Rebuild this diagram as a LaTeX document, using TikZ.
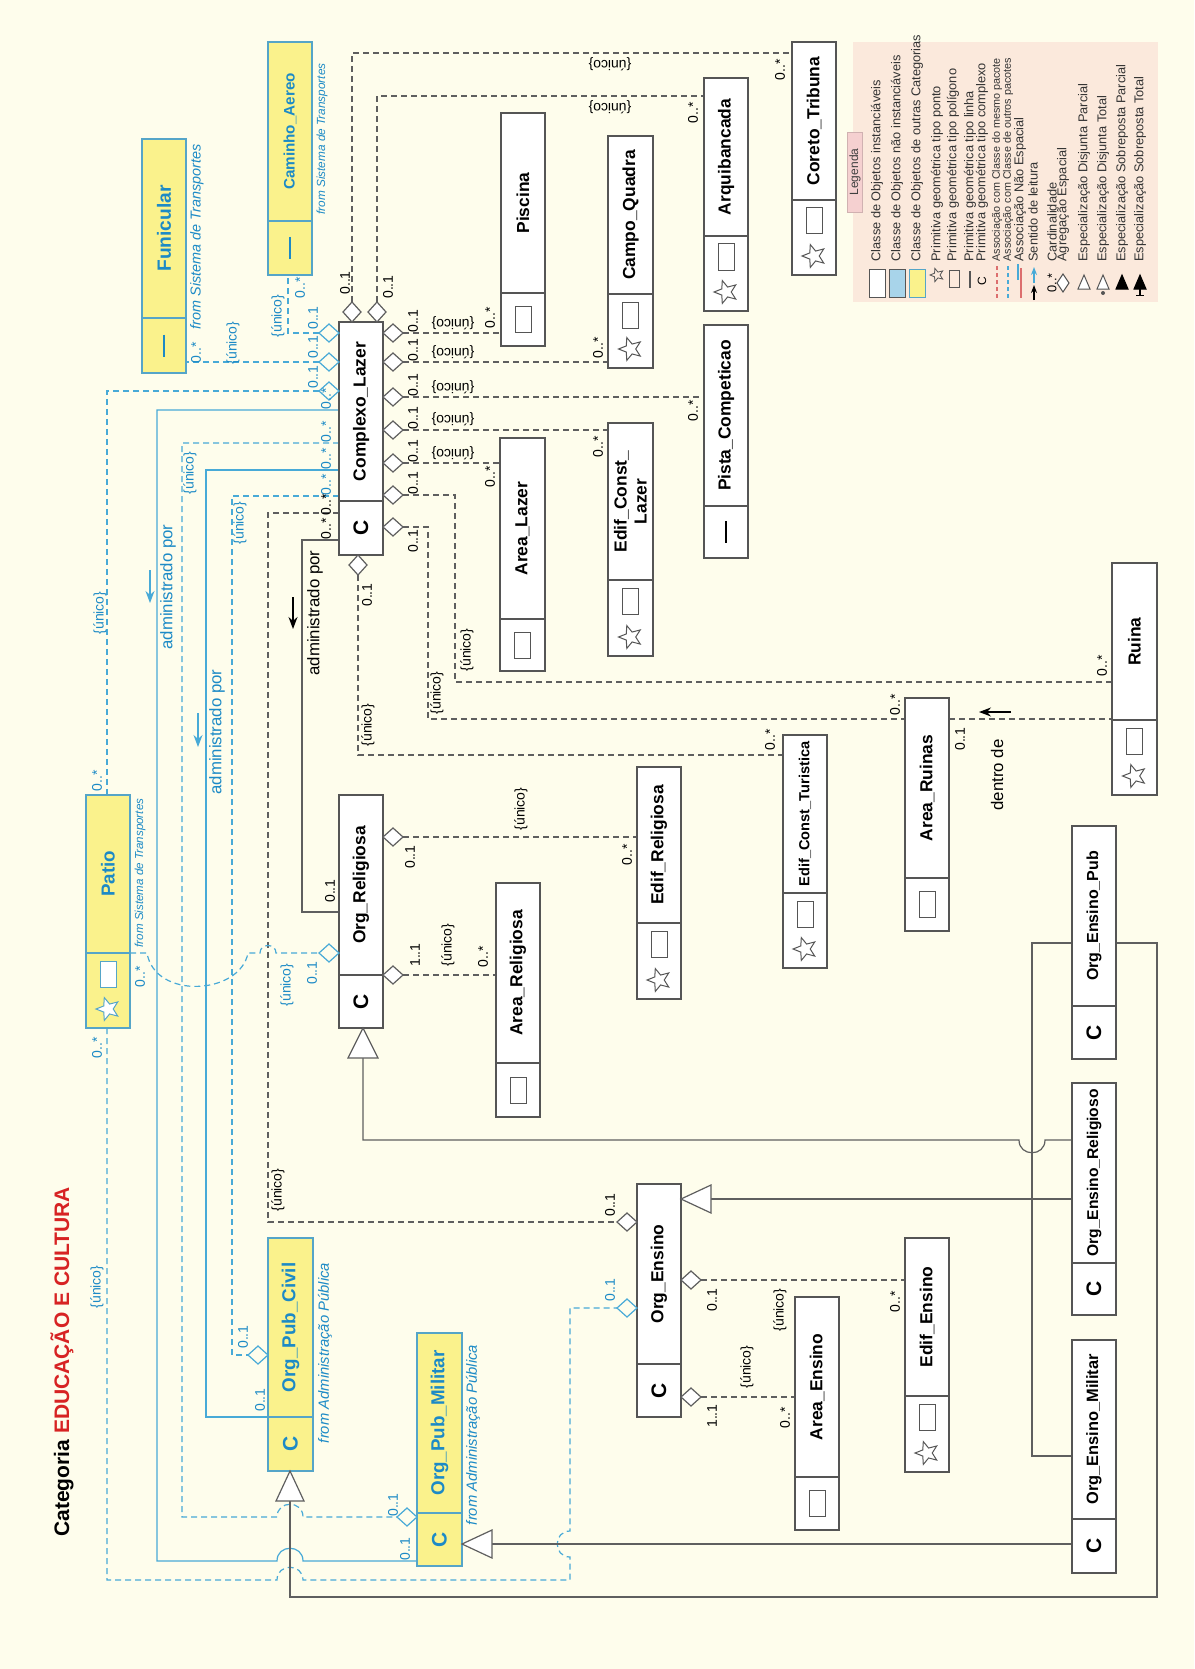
\documentclass[tikz,border=0pt]{standalone}
\usepackage{fontspec}
\setmainfont{Liberation Sans}
\usetikzlibrary{shapes.geometric,arrows.meta}

\definecolor{bg}{RGB}{254,253,236}
\definecolor{boxline}{RGB}{85,85,85}
\definecolor{conn}{RGB}{95,95,95}
\definecolor{lblue}{RGB}{72,170,215}
\definecolor{tblue}{RGB}{28,138,198}
\definecolor{yfill}{RGB}{250,242,140}
\definecolor{yline}{RGB}{85,165,200}
\definecolor{legbg}{RGB}{251,233,220}
\definecolor{legtab}{RGB}{245,208,208}
\definecolor{legblue}{RGB}{168,212,234}
\definecolor{lred}{RGB}{220,110,110}
\definecolor{tred}{RGB}{215,35,35}

\tikzset{
  wbox/.style={draw=boxline, fill=white, line width=0.6pt, inner sep=0pt, outer sep=0pt},
  ybox/.style={draw=yline, fill=yfill, line width=0.6pt, inner sep=0pt, outer sep=0pt},
  wboxsep/.style={draw=boxline, line width=0.6pt},
  yboxsep/.style={draw=yline, line width=0.6pt},
  wboxtxt/.style={text=black, font=\bfseries\fontsize{8.7}{10}\selectfont},
  yboxtxt/.style={text=tblue, font=\bfseries\fontsize{9.4}{10}\selectfont},
  gline/.style={draw=conn, line width=0.6pt},
  gdash/.style={draw=conn, line width=0.6pt, dash pattern=on 3pt off 2pt},
  bline/.style={draw=lblue, line width=0.6pt},
  bdash/.style={draw=lblue, line width=0.6pt, dash pattern=on 3pt off 2pt},
  lbl/.style={rotate=90, inner sep=0pt, font=\fontsize{7}{7}\selectfont},
  lblr/.style={rotate=180, inner sep=0pt, font=\fontsize{7}{7}\selectfont},
  bl/.style={text=tblue},
  gd/.style={draw=conn, fill=white, line width=0.6pt},
  bd/.style={draw=lblue, fill=bg, line width=0.6pt},
  gen/.style={draw=conn, fill=white, line width=0.6pt},
  frm/.style={rotate=90, inner sep=0pt, text=tblue, font=\itshape\fontsize{#1}{#1}\selectfont},
  adm/.style={rotate=90, inner sep=0pt, font=\fontsize{8.4}{9}\selectfont},
  legtxt/.style={rotate=90, anchor=west, inner sep=0pt, text=black!80, font=\fontsize{6.4}{7}\selectfont},
  rdarrow/.style={line width=0.7pt, -{Stealth[length=6pt,width=4.5pt]}},
}

% icon compartments: #1 colour, #2 centre x, #3 divider y, #4 bottom y
\newcommand\icC[4]{\node[rotate=90, inner sep=0pt, text=#1, font=\bfseries\fontsize{10.5}{11}\selectfont] at ({#2},{(#3+#4)/2}) {C};}
\newcommand\icR[4]{\draw[draw=#1, fill=white, line width=0.5pt] ({#2-8},{(#3+#4)/2-13}) rectangle ({#2+8},{(#3+#4)/2+13});}
\newcommand\icSR[4]{\draw[draw=#1, fill=white, line width=0.5pt] ({#2-8},{#3+8}) rectangle ({#2+8},{#3+34});
  \node[star, star points=5, star point ratio=2.3, draw=#1, fill=white, line width=0.5pt, minimum size=12pt, inner sep=0pt, rotate=90] at ({#2},{#4-19}) {};}
\newcommand\icL[4]{\draw[draw=#1, line width=0.8pt] ({#2},{(#3+#4)/2-11}) -- ({#2},{(#3+#4)/2+11});}

% class box: #1 name, #2 style, #3 left x, #4 right x, #5 top y, #6 bottom y, #7 divider y, #8 title, #9 icon
\newcommand\cls[9]{%
  \node[#2, minimum width={(#4-#3)*0.5pt}, minimum height={(#6-#5)*0.5pt}] (#1) at ({(#3+#4)/2},{(#5+#6)/2}) {};
  \draw[#2sep] (#3,#7) -- (#4,#7);
  \node[#2txt, rotate=90, align=center, inner sep=0pt] at ({(#3+#4)/2},{(#5+#7)/2}) {#8};
  #9{(#3+#4)/2}{#7}{#6}%
}

% aggregation diamonds: #1 x, #2 y, #3 direction sign, #4 style
\newcommand\dmdh[4]{\draw[#4] (#1,#2) -- ({#1+#3*10},{#2-9}) -- ({#1+#3*20},#2) -- ({#1+#3*10},{#2+9}) -- cycle;}
\newcommand\dmdv[4]{\draw[#4] (#1,#2) -- ({#1-9},{#2+#3*10}) -- (#1,{#2+#3*20}) -- ({#1+9},{#2+#3*10}) -- cycle;}

\begin{document}
\begin{tikzpicture}[x=0.5pt, y=-0.5pt]
\useasboundingbox (0,0) rectangle (1194,1669);
\fill[bg] (0,0) rectangle (1194,1669);

% ---------- title ----------
\node[rotate=90, anchor=west, inner sep=0pt, font=\bfseries\fontsize{10.5}{12}\selectfont] (title) at (62,1537) {Categoria \textcolor{tred}{EDUCAÇÃO E CULTURA}};

% ---------- connectors (drawn first, boxes on top) ----------
% Complexo_Lazer, top side
\draw[gdash] (352,302) -- (352,53) -- (792,53);
\draw[gdash] (377,302) -- (377,96) -- (704,96);
% Complexo_Lazer, left side (other packages)
\draw[bdash] (319,333) -- (288,333) -- (288,275);
\draw[bdash] (319,362) -- (186,362);
\draw[bdash] (319,391) -- (107,391) -- (107,795);
\draw[bline] (339,410) -- (157,410) -- (157,1561) -- (277,1561) .. controls (277,1544) and (303,1544) .. (303,1561) -- (417,1561);
\draw[bdash] (339,443) -- (182,443) -- (182,1517) -- (277,1517) .. controls (277,1500) and (303,1500) .. (303,1517) -- (397,1517);
\draw[bline] (339,470) -- (206,470) -- (206,1417) -- (268,1417);
\draw[bdash] (339,496) -- (232,496) -- (232,1355) -- (248,1355);
\draw[gdash] (339,513) -- (268,513) -- (268,1222) -- (617,1222);
\draw[gline] (339,540) -- (302,540) -- (302,912) -- (339,912);
% Complexo_Lazer, right side
\draw[gdash] (403,333) -- (501,333);
\draw[gdash] (403,362) -- (608,362);
\draw[gdash] (403,397) -- (704,397);
\draw[gdash] (403,430) -- (608,430);
\draw[gdash] (403,463) -- (500,463);
\draw[gdash] (403,495) -- (455,495) -- (455,682) -- (1112,682);
\draw[gdash] (403,527) -- (428,527) -- (428,719) -- (905,719);
% Complexo_Lazer, bottom side
\draw[gdash] (358,575) -- (358,755) -- (783,755);
% Area_Ruinas - Ruina
\draw[gdash] (949,719) -- (1112,719);
% Patio
\draw[bdash] (130,953) -- (147,953) .. controls (155,1000) and (240,995) .. (248,953) -- (260,953) .. controls (260,943) and (276,943) .. (276,953) -- (319,953);
\draw[bdash] (107,1028) -- (107,1580) -- (277,1580) .. controls (277,1563) and (303,1563) .. (303,1580) -- (570,1580) -- (570,1557) .. controls (553,1557) and (553,1531) .. (570,1531) -- (570,1308) -- (617,1308);
% Org_Religiosa parts
\draw[gdash] (403,837) -- (637,837);
\draw[gdash] (403,975) -- (496,975);
% Org_Ensino parts
\draw[gdash] (701,1280) -- (905,1280);
\draw[gdash] (701,1397) -- (795,1397);
% specialisations
\draw[gline] (363,1058) -- (363,1140) -- (1019,1140) .. controls (1019,1157) and (1045,1157) .. (1045,1140) -- (1072,1140);
\draw[gline] (711,1199) -- (1072,1199);
\draw[gline] (1072,943) -- (1032,943) -- (1032,1456) -- (1072,1456);
\draw[gline] (290,1501) -- (290,1597) -- (1157,1597) -- (1157,943) -- (1116,943);
\draw[gline] (492,1544) -- (1072,1544);

% ---------- classes ----------
\cls{fun}{ybox}{142}{186}{139}{373}{318}{\fontsize{9.6}{10}\selectfont Funicular}{\icL{tblue}}
\cls{cam}{ybox}{268}{312}{42}{275}{221}{\fontsize{7.6}{8}\selectfont Caminho\_Aereo}{\icL{tblue}}
\cls{pat}{ybox}{86}{130}{795}{1028}{953}{Patio}{\icSR{yline}}
\cls{opc}{ybox}{268}{313}{1238}{1471}{1417}{Org\_Pub\_Civil}{\icC{tblue}}
\cls{opm}{ybox}{417}{462}{1333}{1566}{1513}{Org\_Pub\_Militar}{\icC{tblue}}

\cls{cl}{wbox}{339}{383}{322}{555}{501}{Complexo\_Lazer}{\icC{black}}
\cls{pis}{wbox}{501}{545}{113}{346}{293}{Piscina}{\icR{boxline}}
\cls{cq}{wbox}{608}{653}{136}{368}{294}{Campo\_Quadra}{\icSR{boxline}}
\cls{arq}{wbox}{704}{748}{78}{311}{236}{Arquibancada}{\icSR{boxline}}
\cls{cor}{wbox}{792}{836}{42}{275}{200}{Coreto\_Tribuna}{\icSR{boxline}}
\cls{pc}{wbox}{704}{748}{325}{558}{506}{Pista\_Competicao}{\icL{black}}
\cls{al}{wbox}{500}{545}{438}{671}{619}{Area\_Lazer}{\icR{boxline}}
\cls{ecl}{wbox}{608}{653}{423}{656}{580}{Edif\_Const\_\\Lazer}{\icSR{boxline}}
\cls{ect}{wbox}{783}{827}{735}{968}{893}{\fontsize{7.3}{8}\selectfont Edif\_Const\_Turistica}{\icSR{boxline}}
\cls{ar}{wbox}{905}{949}{698}{931}{878}{Area\_Ruinas}{\icR{boxline}}
\cls{rui}{wbox}{1112}{1157}{563}{795}{720}{Ruina}{\icSR{boxline}}
\cls{orl}{wbox}{339}{383}{795}{1028}{975}{Org\_Religiosa}{\icC{black}}
\cls{arl}{wbox}{496}{540}{883}{1117}{1063}{Area\_Religiosa}{\icR{boxline}}
\cls{erl}{wbox}{637}{681}{767}{999}{923}{Edif\_Religiosa}{\icSR{boxline}}
\cls{oe}{wbox}{637}{681}{1184}{1417}{1364}{Org\_Ensino}{\icC{black}}
\cls{ae}{wbox}{795}{839}{1297}{1530}{1477}{Area\_Ensino}{\icR{boxline}}
\cls{ee}{wbox}{905}{949}{1238}{1472}{1396}{Edif\_Ensino}{\icSR{boxline}}
\cls{oep}{wbox}{1072}{1116}{826}{1059}{1006}{\fontsize{8}{9}\selectfont Org\_Ensino\_Pub}{\icC{black}}
\cls{oer}{wbox}{1072}{1116}{1083}{1315}{1263}{\fontsize{7.8}{9}\selectfont Org\_Ensino\_Religioso}{\icC{black}}
\cls{oem}{wbox}{1072}{1116}{1340}{1573}{1519}{\fontsize{8.2}{9}\selectfont Org\_Ensino\_Militar}{\icC{black}}

% package notes
\node[frm=7.2] at (197,237) {from Sistema de Transportes};
\node[frm=5.9] at (322,139) {from Sistema de Transportes};
\node[frm=5.8] at (140,873) {from Sistema de Transportes};
\node[frm=7.4] at (325,1353) {from Administração Pública};
\node[frm=7.4] at (473,1435) {from Administração Pública};

% ---------- aggregation diamonds ----------
\dmdv{352}{322}{-1}{gd} \dmdv{377}{322}{-1}{gd}
\dmdh{339}{333}{-1}{bd} \dmdh{339}{362}{-1}{bd} \dmdh{339}{391}{-1}{bd}
\dmdh{383}{333}{1}{gd} \dmdh{383}{362}{1}{gd} \dmdh{383}{397}{1}{gd} \dmdh{383}{430}{1}{gd}
\dmdh{383}{463}{1}{gd} \dmdh{383}{495}{1}{gd} \dmdh{383}{527}{1}{gd}
\dmdv{358}{555}{1}{gd}
\dmdh{339}{953}{-1}{bd}
\dmdh{383}{837}{1}{gd} \dmdh{383}{975}{1}{gd}
\dmdh{637}{1222}{-1}{gd} \dmdh{637}{1308}{-1}{bd}
\dmdh{681}{1280}{1}{gd} \dmdh{681}{1397}{1}{gd}
\dmdh{268}{1355}{-1}{bd}
\dmdh{417}{1517}{-1}{bd}

% ---------- specialisation triangles ----------
\draw[gen] (363,1028) -- (348,1058) -- (378,1058) -- cycle;
\draw[gen] (290,1471) -- (276,1501) -- (304,1501) -- cycle;
\draw[gen] (681,1199) -- (711,1185) -- (711,1213) -- cycle;
\draw[gen] (462,1544) -- (492,1530) -- (492,1558) -- cycle;

% ---------- reading directions ----------
\node[adm, text=tblue] at (168,587) {administrado por};
\draw[rdarrow, lblue] (150,570) -- (150,603);
\node[adm, text=tblue] at (217,732) {administrado por};
\draw[rdarrow, lblue] (198,713) -- (198,747);
\node[adm] at (315,613) {administrado por};
\draw[rdarrow, black] (293,597) -- (293,629);
\node[adm] at (997,775) {dentro de};
\draw[rdarrow, black] (1011,712) -- (979,712);

% ---------- multiplicities and constraints ----------
% top of Complexo_Lazer
\node[lbl] at (345,283) {0..1};
\node[lbl] at (388,287) {0..1};
\node[lblr] at (610,64) {\{único\}};
\node[lbl] at (780,70) {0..*};
\node[lblr] at (610,107) {\{único\}};
\node[lbl] at (693,113) {0..*};
% left of Complexo_Lazer
\node[lbl, bl] at (313,318) {0..1};
\node[lbl, bl] at (278,316) {\{único\}};
\node[lbl, bl] at (300,288) {0..*};
\node[lbl, bl] at (313,347) {0..1};
\node[lbl, bl] at (233,343) {\{único\}};
\node[lbl, bl] at (196,353) {0..*};
\node[lbl, bl] at (313,377) {0..1};
\node[lbl, bl] at (100,613) {\{único\}};
\node[lbl, bl] at (97,781) {0..*};
\node[lbl, bl] at (326,399) {0..*};
\node[lbl, bl] at (326,432) {0..*};
\node[lbl, bl] at (326,459) {0..*};
\node[lbl, bl] at (326,485) {0..*};
\node[lbl] at (326,505) {0..*};
\node[lbl] at (326,529) {0..*};
\node[lbl, bl] at (190,473) {\{único\}};
\node[lbl, bl] at (240,523) {\{único\}};
\node[lbl] at (278,1190) {\{único\}};
% Org_Pub ends
\node[lbl, bl] at (405,1549) {0..1};
\node[lbl, bl] at (393,1505) {0..1};
\node[lbl, bl] at (260,1400) {0..1};
\node[lbl, bl] at (243,1337) {0..1};
% Patio
\node[lbl, bl] at (140,977) {0..*};
\node[lbl, bl] at (287,985) {\{único\}};
\node[lbl, bl] at (312,973) {0..1};
\node[lbl, bl] at (97,1048) {0..*};
\node[lbl, bl] at (97,1287) {\{único\}};
\node[lbl, bl] at (610,1290) {0..1};
\node[lbl] at (610,1205) {0..1};
\node[lbl] at (330,891) {0..1};
% right of Complexo_Lazer
\node[lbl] at (413,321) {0..1};
\node[lblr] at (453,323) {\{único\}};
\node[lbl] at (490,318) {0..*};
\node[lbl] at (413,350) {0..1};
\node[lblr] at (453,352) {\{único\}};
\node[lbl] at (598,348) {0..*};
\node[lbl] at (413,385) {0..1};
\node[lblr] at (453,387) {\{único\}};
\node[lbl] at (693,411) {0..*};
\node[lbl] at (413,418) {0..1};
\node[lblr] at (453,419) {\{único\}};
\node[lbl] at (598,447) {0..*};
\node[lbl] at (413,451) {0..1};
\node[lblr] at (453,453) {\{único\}};
\node[lbl] at (490,477) {0..*};
\node[lbl] at (413,483) {0..1};
\node[lbl] at (467,650) {\{único\}};
\node[lbl] at (1102,666) {0..*};
\node[lbl] at (413,541) {0..1};
\node[lbl] at (437,693) {\{único\}};
\node[lbl] at (895,705) {0..*};
\node[lbl] at (367,595) {0..1};
\node[lbl] at (368,725) {\{único\}};
\node[lbl] at (770,740) {0..*};
\node[lbl] at (960,739) {0..1};
% Org_Religiosa parts
\node[lbl] at (410,857) {0..1};
\node[lbl] at (521,809) {\{único\}};
\node[lbl] at (627,855) {0..*};
\node[lbl] at (415,955) {1..1};
\node[lbl] at (448,945) {\{único\}};
\node[lbl] at (483,957) {0..*};
% Org_Ensino parts
\node[lbl] at (712,1300) {0..1};
\node[lbl] at (780,1310) {\{único\}};
\node[lbl] at (895,1302) {0..*};
\node[lbl] at (712,1416) {1..1};
\node[lbl] at (747,1367) {\{único\}};
\node[lbl] at (785,1418) {0..*};

% ---------- legend ----------
\fill[legbg] (853,42) rectangle (1158,302);
\node[draw=legtab!85!black, fill=legtab, line width=0.3pt, minimum width=7.5pt, minimum height=40pt, inner sep=0pt] (legtab) at (855,172) {};
\node[rotate=90, inner sep=0pt, text=black!75, font=\fontsize{6}{6}\selectfont] at (legtab) {Legenda};
\draw[draw=boxline, fill=white, line width=0.5pt] (869,269) rectangle (885,297);
\draw[draw=boxline, fill=legblue, line width=0.5pt] (889,269) rectangle (905,297);
\draw[draw=yline, fill=yfill, line width=0.5pt] (909,269) rectangle (925,297);
\node[star, star points=5, star point ratio=2.3, draw=boxline, line width=0.4pt, minimum size=7pt, inner sep=0pt, rotate=90] at (937,275) {};
\draw[draw=boxline, line width=0.4pt] (949,270) rectangle (959,287);
\draw[draw=boxline, line width=0.6pt] (970,271) -- (970,288);
\node[rotate=90, inner sep=0pt, font=\fontsize{6}{6}\selectfont] at (982,281) {C};
\draw[draw=lred, line width=0.6pt, dash pattern=on 2pt off 1.5pt] (997,266) -- (997,298);
\draw[draw=lblue, line width=0.6pt, dash pattern=on 2pt off 1.5pt] (1008,266) -- (1008,298);
\draw[draw=lblue, line width=0.6pt] (1018,264) -- (1018,280);
\draw[draw=lred, line width=0.6pt] (1021,268) -- (1021,298);
\draw[black, line width=0.6pt, -{Stealth[length=4pt,width=3pt]}] (1034,300) -- (1034,285);
\draw[lblue, line width=0.6pt, -{Stealth[length=4pt,width=3pt]}] (1034,283) -- (1034,267);
\node[rotate=90, inner sep=0pt, font=\fontsize{6.4}{7}\selectfont] at (1052,283) {0..*};
\draw[draw=boxline, fill=white, line width=0.5pt] (1063,274) -- (1057,283) -- (1063,292) -- (1069,283) -- cycle;
\draw[draw=boxline, fill=white, line width=0.5pt] (1084,275) -- (1078,289) -- (1090,289) -- cycle;
\draw[draw=boxline, fill=white, line width=0.5pt] (1103,275) -- (1097,289) -- (1109,289) -- cycle;
\fill[boxline] (1103,293) circle (1pt);
\draw[draw=black, fill=black, line width=0.5pt] (1122,275) -- (1116,289) -- (1128,289) -- cycle;
\draw[draw=black, fill=black, line width=0.5pt] (1140,275) -- (1134,289) -- (1146,289) -- cycle;
\draw[black, line width=0.8pt] (1140,289) -- (1140,295);
\draw[black, line width=0.5pt] (1136,295) -- (1144,295);
\node[legtxt] at (877,262) {Classe de Objetos instanciáveis};
\node[legtxt] at (897,262) {Classe de Objetos não instanciáveis};
\node[legtxt] at (917,262) {Classe de Objetos de outras Categorias};
\node[legtxt] at (937,262) {Primitiva geométrica tipo ponto};
\node[legtxt] at (953,262) {Primitiva geométrica tipo polígono};
\node[legtxt] at (970,262) {Primitiva geométrica tipo linha};
\node[legtxt] at (982,262) {Primitiva geométrica tipo complexo};
\node[legtxt, font=\fontsize{5.4}{6}\selectfont] at (997,262) {Associação com Classe do mesmo pacote};
\node[legtxt, font=\fontsize{5.4}{6}\selectfont] at (1008,262) {Associação com Classe de outros pacotes};
\node[legtxt] at (1020,262) {Associação Não Espacial};
\node[legtxt] at (1033,262) {Sentido de leitura};
\node[legtxt] at (1052,262) {Cardinalidade};
\node[legtxt] at (1063,262) {Agregação Espacial};
\node[legtxt] at (1084,262) {Especialização Disjunta Parcial};
\node[legtxt] at (1103,262) {Especialização Disjunta Total};
\node[legtxt] at (1122,262) {Especialização Sobreposta Parcial};
\node[legtxt] at (1140,262) {Especialização Sobreposta Total};
\end{tikzpicture}
\end{document}
